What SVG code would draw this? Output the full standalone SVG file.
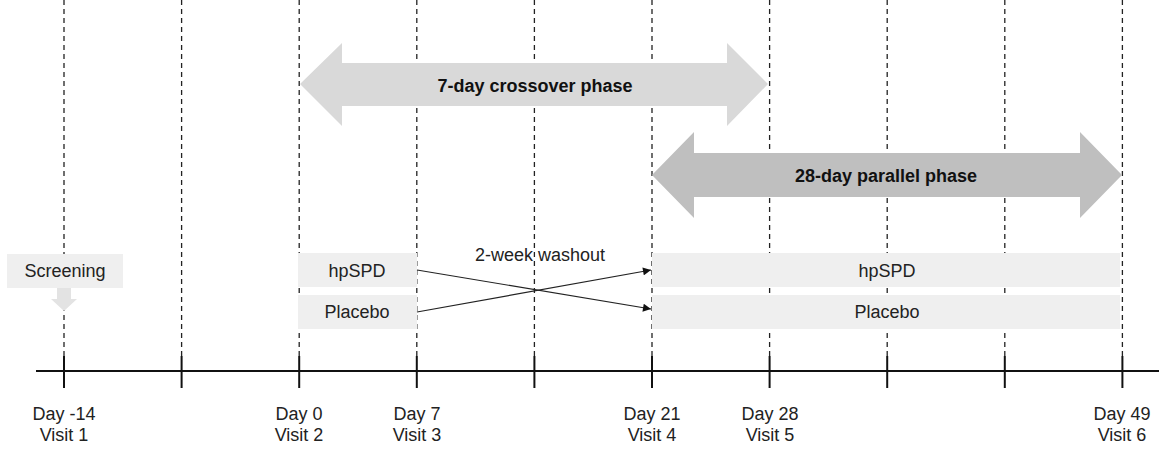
<svg xmlns="http://www.w3.org/2000/svg" width="1159" height="453" viewBox="0 0 1159 453">
<style>
.grid{stroke:#222;stroke-width:1.3;stroke-dasharray:5 4;fill:none}
.axis{stroke:#111;stroke-width:2;fill:none}
.box{fill:#efefef}
.t{font-family:"Liberation Sans",Arial,sans-serif;font-size:18px;fill:#222;text-anchor:middle}
.b{font-weight:bold;fill:#111}
.conn{stroke:#222;stroke-width:1.2;fill:none;marker-end:url(#ah)}
</style>
<defs>
<marker id="ah" viewBox="0 0 10 10" refX="10" refY="5" markerWidth="10" markerHeight="8" markerUnits="userSpaceOnUse" orient="auto">
<path d="M0,0 L10,5 L0,10 z" fill="#111"/>
</marker>
</defs>
<rect width="1159" height="453" fill="#fff"/>
<g id="gridlines">
<line class="grid" x1="64" y1="0" x2="64" y2="356"/>
<line class="grid" x1="181.6" y1="0" x2="181.6" y2="356"/>
<line class="grid" x1="299.2" y1="0" x2="299.2" y2="356"/>
<line class="grid" x1="416.8" y1="0" x2="416.8" y2="356"/>
<line class="grid" x1="534.4" y1="0" x2="534.4" y2="356"/>
<line class="grid" x1="652" y1="0" x2="652" y2="356"/>
<line class="grid" x1="769.6" y1="0" x2="769.6" y2="356"/>
<line class="grid" x1="887.2" y1="0" x2="887.2" y2="356"/>
<line class="grid" x1="1004.8" y1="0" x2="1004.8" y2="356"/>
<line class="grid" x1="1122.4" y1="0" x2="1122.4" y2="356"/>
</g>
<g id="axis">
<line class="axis" x1="36" y1="371" x2="1159" y2="371"/>
<line class="axis" x1="64" y1="356" x2="64" y2="388"/>
<line class="axis" x1="181.6" y1="356" x2="181.6" y2="388"/>
<line class="axis" x1="299.2" y1="356" x2="299.2" y2="388"/>
<line class="axis" x1="416.8" y1="356" x2="416.8" y2="388"/>
<line class="axis" x1="534.4" y1="356" x2="534.4" y2="388"/>
<line class="axis" x1="652" y1="356" x2="652" y2="388"/>
<line class="axis" x1="769.6" y1="356" x2="769.6" y2="388"/>
<line class="axis" x1="887.2" y1="356" x2="887.2" y2="388"/>
<line class="axis" x1="1004.8" y1="356" x2="1004.8" y2="388"/>
<line class="axis" x1="1122.4" y1="356" x2="1122.4" y2="388"/>
</g>
<g id="crossover-phase">
<path d="M300,84 L342,43 L342,63 L727,63 L727,43 L768,84 L727,126 L727,106 L342,106 L342,126 Z" fill="#d9d9d9"/>
<text class="t b" x="535" y="92">7-day crossover phase</text>
</g>
<g id="parallel-phase">
<path d="M652,175 L694,132 L694,153 L1080,153 L1080,132 L1122,175 L1080,218 L1080,197 L694,197 L694,218 Z" fill="#bfbfbf"/>
<text class="t b" x="886" y="182">28-day parallel phase</text>
</g>
<g id="screening">
<rect class="box" x="7" y="254" width="116" height="34"/>
<text class="t" x="65" y="277">Screening</text>
<path d="M57,288 L71,288 L71,299 L77,299 L64,311 L51,299 L57,299 Z" fill="#e3e3e3"/>
</g>
<g id="hpspd-crossover">
<rect class="box" x="298" y="253" width="119" height="34"/>
<text class="t" x="357" y="277">hpSPD</text>
</g>
<g id="placebo-crossover">
<rect class="box" x="298" y="295" width="119" height="34"/>
<text class="t" x="357" y="318">Placebo</text>
</g>
<g id="hpspd-parallel">
<rect class="box" x="652" y="253" width="468" height="34"/>
<text class="t" x="887" y="277">hpSPD</text>
</g>
<g id="placebo-parallel">
<rect class="box" x="652" y="295" width="468" height="34"/>
<text class="t" x="887" y="318">Placebo</text>
</g>
<g id="washout-label">
<text class="t" x="540" y="261">2-week washout</text>
</g>
<g id="connectors">
<line class="conn" x1="417" y1="270" x2="651" y2="309"/>
<line class="conn" x1="417" y1="312" x2="651" y2="270"/>
</g>
<g id="day-labels">
<text class="t" x="64" y="420">Day -14</text>
<text class="t" x="64" y="441">Visit 1</text>
<text class="t" x="299" y="420">Day 0</text>
<text class="t" x="299" y="441">Visit 2</text>
<text class="t" x="417" y="420">Day 7</text>
<text class="t" x="417" y="441">Visit 3</text>
<text class="t" x="652" y="420">Day 21</text>
<text class="t" x="652" y="441">Visit 4</text>
<text class="t" x="770" y="420">Day 28</text>
<text class="t" x="770" y="441">Visit 5</text>
<text class="t" x="1122" y="420">Day 49</text>
<text class="t" x="1122" y="441">Visit 6</text>
</g>
</svg>
